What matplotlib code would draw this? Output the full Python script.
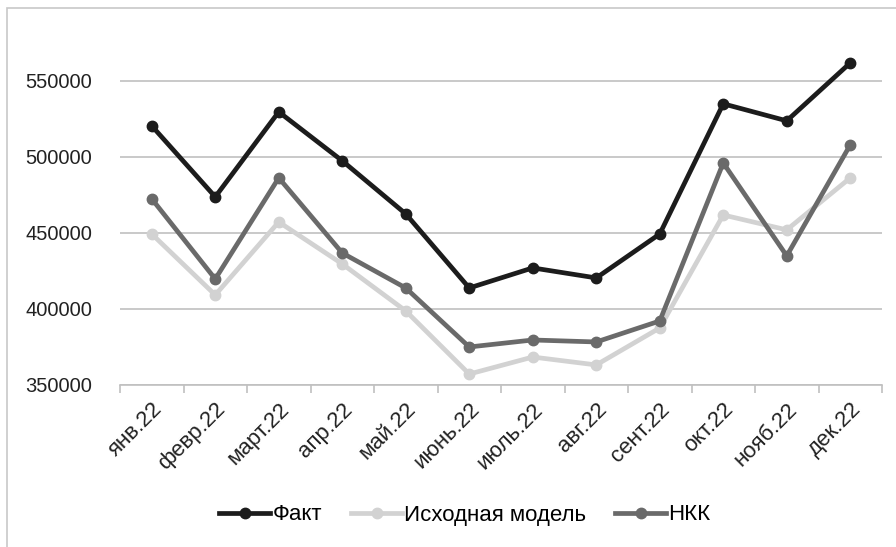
import matplotlib
matplotlib.use('Agg')
import matplotlib.pyplot as plt
from matplotlib.patches import Rectangle

months = ['янв.22', 'февр.22', 'март.22', 'апр.22', 'май.22', 'июнь.22',
          'июль.22', 'авг.22', 'сент.22', 'окт.22', 'нояб.22', 'дек.22']
fact = [520400, 473700, 529600, 497400, 462500, 413800,
        427000, 420400, 449300, 534900, 523700, 561800]
base_model = [449300, 409200, 457200, 429600, 398700, 357200,
              368400, 363200, 387500, 461800, 452000, 486200]
nkk = [472400, 419700, 486200, 436800, 413800, 375000,
       379600, 378300, 392100, 496000, 434900, 507900]
yticks = [350000, 400000, 450000, 500000, 550000]

plt.rcParams['font.family'] = ['Liberation Sans', 'DejaVu Sans']

fig = plt.figure(figsize=(8.96, 5.47), dpi=100)
ax = fig.add_axes([120 / 896, 1 - 385 / 547, 762 / 896, 365 / 547])

# outer chart frame
fig.patches.append(Rectangle((7 / 896, -0.05), 1.1, 1 - 8 / 547 + 0.05,
                             transform=fig.transFigure, fill=False,
                             edgecolor='#c8c8c8', linewidth=1.2))

x = range(len(months))
series = [('Факт', fact, '#1c1c1c'),
          ('Исходная модель', base_model, '#d2d2d2'),
          ('НКК', nkk, '#6a6a6a')]
for label, vals, color in series:
    ax.plot(x, vals, color=color, linewidth=3.4, marker='o', markersize=7.5,
            label=label, solid_joinstyle='round')

ax.set_xlim(-0.5, len(months) - 0.5)
ax.set_ylim(350000, 590000)
ax.set_yticks(yticks)
ax.set_yticklabels([str(v) for v in yticks], fontsize=14.5, color='#222222')
ax.set_xticks(list(x))
ax.set_xticklabels(months, rotation=45, ha='right', va='top',
                   rotation_mode='anchor', fontsize=16, color='#222222')
ax.tick_params(axis='x', length=0, pad=10)
ax.tick_params(axis='y', length=0, pad=20)

# category boundary ticks
ax.set_xticks([i - 0.5 for i in range(len(months) + 1)], minor=True)
ax.tick_params(axis='x', which='minor', length=6, color='#c0c0c0', width=1.2)

ax.grid(axis='y', color='#c0c0c0', linewidth=1.2)
ax.set_axisbelow(True)
for side in ['top', 'right', 'left']:
    ax.spines[side].set_visible(False)
ax.spines['bottom'].set_color('#c0c0c0')
ax.spines['bottom'].set_linewidth(1.2)

fig.legend(loc='center', bbox_to_anchor=(465 / 896, 1 - 515 / 547), ncol=3,
           frameon=False, fontsize=16, handlelength=2.3, handletextpad=0.1,
           columnspacing=1.3)

fig.savefig('out.png', dpi=100)
